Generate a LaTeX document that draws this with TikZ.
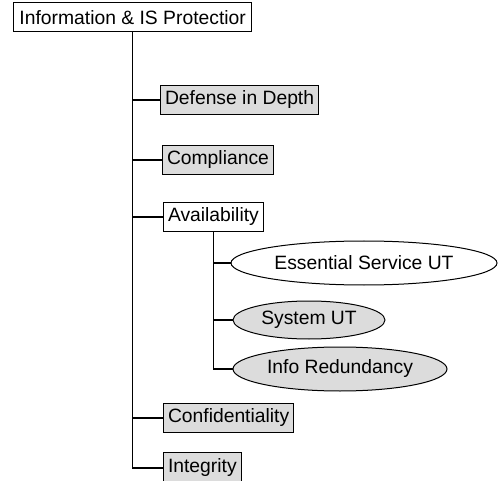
\documentclass[tikz,border=0pt]{standalone}
\usepackage{fontspec}
\setmainfont{Liberation Sans}
\usetikzlibrary{positioning,shapes.geometric}
\definecolor{boxGray}{HTML}{DCDCDC}

\tikzset{
  topbox/.style={draw,line width=1pt,fill=white,minimum height=29pt,inner xsep=4.5pt,inner ysep=0pt,anchor=west},
  catbox/.style={topbox,fill=boxGray},
  leafell/.style={ellipse,draw,line width=1pt,fill=boxGray,inner sep=0pt},
  tree/.style={line width=1.4pt}
}

\begin{document}
\begin{tikzpicture}[x=1pt,y=-1pt,font=\fontsize{19.3}{22}\selectfont]
\useasboundingbox (0,0) rectangle (498,481);
% top of the tree
\node[topbox,inner xsep=6pt] (root) at (13,17.5) {\makebox[226pt][l]{Information \& IS Protectior}};
% first level
\node[catbox] (depth) at (160,100) {Defense in Depth};
\node[catbox] (compl) at (162,160) {Compliance};
\node[topbox] (avail) at (163,217) {Availability};
\node[catbox] (confid) at (163,418) {Confidentiality};
\node[catbox,minimum height=31pt] (integ) at (163,468) {Integrity};
% under availability
\node[leafell,fill=white,minimum width=266pt,minimum height=44pt] (essent) at (364,263) {Essential Service UT};
\node[leafell,minimum width=152pt,minimum height=38pt] (sysut) at (309,320) {System UT};
\node[leafell,minimum width=214pt,minimum height=44pt] (infored) at (340,369) {Info Redundancy};
% connectors
\draw[tree] (root.south) |- (integ.west);
\foreach \n in {depth,compl,avail,confid}
  \draw[tree] (root.south |- \n.west) -- (\n.west);
\draw[tree] (avail.south) |- (infored.west);
\foreach \n in {essent,sysut}
  \draw[tree] (avail.south |- \n.west) -- (\n.west);
\end{tikzpicture}
\end{document}
